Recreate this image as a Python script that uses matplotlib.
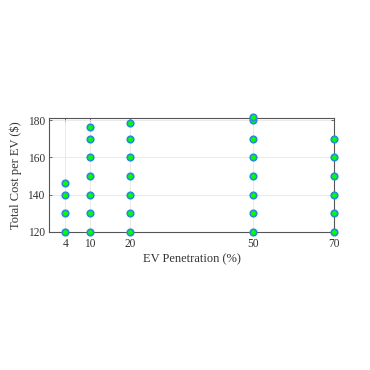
import matplotlib
matplotlib.use("Agg")
import matplotlib.pyplot as plt

penetration = [4, 4, 4, 4,
               10, 10, 10, 10, 10, 10, 10,
               20, 20, 20, 20, 20, 20, 20,
               50, 50, 50, 50, 50, 50, 50, 50,
               70, 70, 70, 70, 70, 70]
cost = [120, 130, 140, 146.2,
        120, 130, 140, 150, 160, 170, 176.4,
        120, 130, 140, 150, 160, 170, 178.5,
        120, 130, 140, 150, 160, 170, 180, 181.6,
        120, 130, 140, 150, 160, 170]
xticks = [4, 10, 20, 50, 70]
yticks = [120, 140, 160, 180]

plt.rcParams['font.family'] = ['Liberation Serif', 'DejaVu Serif']
fig = plt.figure(figsize=(3.7, 3.7), dpi=100)
ax = fig.add_axes([0.1324, 0.373, 0.7703, 0.309])
ax.scatter(penetration, cost, s=22, c='#00ff00', edgecolors='#2a8ad8',
           linewidths=1.2, zorder=3, clip_on=False)
ax.set_xlim(0, 70)
ax.set_ylim(120, 181.3)
ax.set_xticks(xticks)
ax.set_yticks(yticks)
ax.grid(True, color='#e6e6e6', linewidth=0.6)
ax.set_axisbelow(True)
for s in ax.spines.values():
    s.set_color('#555555')
    s.set_linewidth(0.8)
ax.tick_params(direction='in', length=2.5, width=0.6, colors='#555555',
               labelsize=8.3, labelcolor='#333333', top=True, right=True)
ax.tick_params(axis='x', pad=4.5)
ax.tick_params(axis='y', pad=3)
ax.set_xlabel('EV Penetration (%)', fontsize=9, color='#333333', labelpad=2)
ax.set_ylabel('Total Cost per EV (\\$)', fontsize=9, color='#333333', labelpad=4)
fig.savefig('out.png', dpi=100)
